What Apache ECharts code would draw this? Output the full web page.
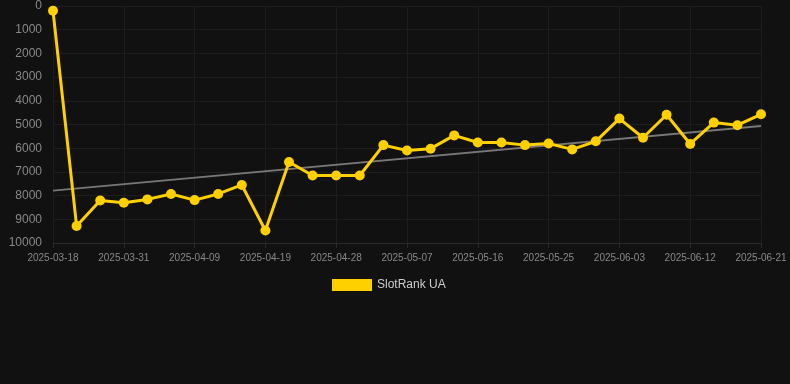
<!DOCTYPE html>
<html>
<head>
<meta charset="utf-8">
<script src="https://cdn.jsdelivr.net/npm/echarts@6/dist/echarts.min.js"></script>
<style>
html,body{margin:0;padding:0;background:#111111;}
#c{width:790px;height:384px;}
</style>
</head>
<body>
<div id="c"></div>
<script>
var categories = ['2025-03-18','2025-03-25','2025-03-28','2025-03-31','2025-04-03','2025-04-06','2025-04-09','2025-04-12','2025-04-15','2025-04-19','2025-04-22','2025-04-25','2025-04-28','2025-05-01','2025-05-04','2025-05-07','2025-05-10','2025-05-13','2025-05-16','2025-05-19','2025-05-22','2025-05-25','2025-05-28','2025-05-31','2025-06-03','2025-06-06','2025-06-09','2025-06-12','2025-06-15','2025-06-18','2025-06-21'];
var rankValues = [200,9280,8210,8300,8160,7930,8190,7930,7550,9470,6580,7150,7150,7150,5870,6100,6020,5460,5760,5760,5870,5800,6050,5710,4750,5560,4590,5820,4920,5030,4570];
var trendStart = 7790;
var trendEnd = 5060;
var seriesName = 'SlotRank UA';

var trendData = categories.map(function(c, i){
  if (i === 0) return trendStart;
  if (i === categories.length - 1) return trendEnd;
  return null;
});

var chart = echarts.init(document.getElementById('c'));
chart.setOption({
  backgroundColor: '#111111',
  animation: false,
  grid: {left: 53, right: 29, top: 6, bottom: 141, containLabel: false},
  legend: {
    data: [seriesName],
    top: 274,
    left: 327,
    itemWidth: 40,
    itemHeight: 12,
    textStyle: {color: '#cccccc', fontSize: 12, fontFamily: 'Liberation Sans, Arial, sans-serif'},
    icon: 'rect'
  },
  xAxis: {
    type: 'category',
    data: categories,
    boundaryGap: false,
    axisLine: {show: true, onZero: false, lineStyle: {color: '#2a2a2a'}},
    axisTick: {show: true, interval: 2, length: 5, lineStyle: {color: '#2a2a2a'}},
    axisLabel: {interval: 2, color: '#888888', fontSize: 10, margin: 10, fontFamily: 'Liberation Sans, Arial, sans-serif'},
    splitLine: {show: true, interval: 2, lineStyle: {color: '#1d1d1d', width: 1}}
  },
  yAxis: {
    type: 'value',
    inverse: true,
    min: 0,
    max: 10000,
    interval: 1000,
    axisLine: {show: false},
    axisTick: {show: false},
    axisLabel: {color: '#888888', fontSize: 12, margin: 11, fontFamily: 'Liberation Sans, Arial, sans-serif', formatter: function(v){ return String(v); }},
    splitLine: {lineStyle: {color: '#1d1d1d', width: 1}}
  },
  series: [
    {
      name: seriesName,
      type: 'line',
      data: rankValues,
      symbol: 'circle',
      symbolSize: 10,
      itemStyle: {color: '#ffd000'},
      lineStyle: {color: '#ffd000', width: 3},
      z: 3
    },
    {
      name: 'trend',
      type: 'line',
      data: trendData,
      connectNulls: true,
      symbol: 'none',
      lineStyle: {color: '#777777', width: 2},
      itemStyle: {color: '#777777'},
      z: 2,
      silent: true
    }
  ]
});
</script>
</body>
</html>
